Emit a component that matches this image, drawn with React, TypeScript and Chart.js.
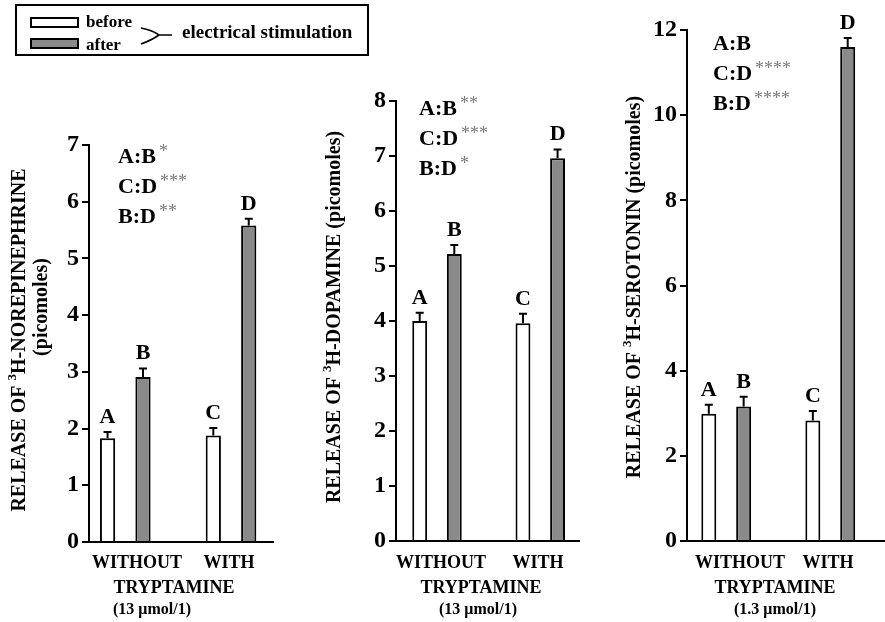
import React, { useEffect, useRef } from 'react';
import { Chart, registerables } from 'chart.js';

Chart.register(...registerables);

const FONT = '"Liberation Serif", "Times New Roman", serif';
const GRAY = '#8a8a8a';
const STAR_GRAY = '#7a7a7a';

// Tryptamine groups on the x axis
const groups = ['WITHOUT', 'WITH'];
const beforeLetters = ['A', 'C'];
const afterLetters = ['B', 'D'];
const comparisons = ['A:B', 'C:D', 'B:D'];

// 3H-norepinephrine release (picomoles)
const neBefore = [1.83, 1.88];
const neAfter = [2.91, 5.58];
const neBeforeErr = [0.11, 0.13];
const neAfterErr = [0.15, 0.12];
const neStars = ['*', '***', '**'];
const neTicks = [0, 1, 2, 3, 4, 5, 6, 7];

// 3H-dopamine release (picomoles)
const daBefore = [4.0, 3.96];
const daAfter = [5.22, 6.96];
const daBeforeErr = [0.15, 0.17];
const daAfterErr = [0.16, 0.16];
const daStars = ['**', '***', '*'];
const daTicks = [0, 1, 2, 3, 4, 5, 6, 7, 8];

// 3H-serotonin release (picomoles)
const htBefore = [2.99, 2.83];
const htAfter = [3.16, 11.6];
const htBeforeErr = [0.21, 0.22];
const htAfterErr = [0.23, 0.21];
const htStars = ['', '****', '****'];
const htTicks = [0, 2, 4, 6, 8, 10, 12];

type Seg = { text: string; size: number; raise: number };

type PanelCfg = {
  before: number[];
  after: number[];
  beforeErr: number[];
  afterErr: number[];
  stars: string[];
  ticks: number[];
  titleLines: { segs: Seg[]; x: number; y: number }[];
  dose: string;
  // layout in page pixels
  axisX: number;
  top: number;
  bottom: number;
  right: number;
  xMin: number;
  xMax: number;
  statsX: number;
  statsY: number;
  withoutX: number;
  withX: number;
  tryptX: number;
  doseX: number;
  legend?: boolean;
};

const W = 885;
const H = 622;
const Y_AXIS_W = 60;

function drawRotated(ctx: CanvasRenderingContext2D, cx: number, cy: number, segs: Seg[]) {
  ctx.save();
  ctx.translate(cx, cy);
  ctx.rotate(-Math.PI / 2);
  ctx.textBaseline = 'middle';
  ctx.textAlign = 'left';
  ctx.fillStyle = '#000';
  let total = 0;
  const widths = segs.map((s) => {
    ctx.font = `bold ${s.size}px ${FONT}`;
    const w = ctx.measureText(s.text).width;
    total += w;
    return w;
  });
  let x = -total / 2;
  segs.forEach((s, i) => {
    ctx.font = `bold ${s.size}px ${FONT}`;
    ctx.fillText(s.text, x, -s.raise);
    x += widths[i];
  });
  ctx.restore();
}

function drawLegend(ctx: CanvasRenderingContext2D) {
  ctx.save();
  ctx.strokeStyle = '#000';
  ctx.lineWidth = 2;
  ctx.strokeRect(16, 5, 352, 50);
  ctx.fillStyle = '#fff';
  ctx.fillRect(31, 18, 47, 9);
  ctx.strokeRect(31, 18, 47, 9);
  ctx.fillStyle = GRAY;
  ctx.fillRect(31, 39, 47, 9);
  ctx.strokeRect(31, 39, 47, 9);
  ctx.fillStyle = '#000';
  ctx.font = `bold 17px ${FONT}`;
  ctx.textAlign = 'left';
  ctx.textBaseline = 'alphabetic';
  ctx.fillText('before', 86, 27);
  ctx.fillText('after', 86, 50);
  ctx.lineWidth = 1.6;
  ctx.beginPath();
  ctx.moveTo(141, 28);
  ctx.quadraticCurveTo(152, 30, 159, 35);
  ctx.quadraticCurveTo(152, 40, 141, 44);
  ctx.moveTo(159, 35);
  ctx.lineTo(172, 35);
  ctx.stroke();
  ctx.font = `bold 19px ${FONT}`;
  ctx.fillText('electrical stimulation', 182, 38);
  ctx.restore();
}

function makePlugin(p: PanelCfg) {
  return {
    id: 'panelDecor',
    afterDatasetsDraw(chart: any) {
      const ctx: CanvasRenderingContext2D = chart.ctx;
      const yScale = chart.scales.y;
      const errs = [p.beforeErr, p.afterErr];
      const vals = [p.before, p.after];
      const letters = [beforeLetters, afterLetters];
      ctx.save();
      for (let d = 0; d < 2; d++) {
        const meta = chart.getDatasetMeta(d);
        meta.data.forEach((bar: any, i: number) => {
          const topY = yScale.getPixelForValue(vals[d][i]);
          const capY = yScale.getPixelForValue(vals[d][i] + errs[d][i]);
          ctx.strokeStyle = '#000';
          ctx.lineWidth = 2;
          ctx.beginPath();
          ctx.moveTo(bar.x, topY);
          ctx.lineTo(bar.x, capY);
          ctx.moveTo(bar.x - 4, capY);
          ctx.lineTo(bar.x + 4, capY);
          ctx.stroke();
          ctx.fillStyle = '#000';
          ctx.font = `bold 22px ${FONT}`;
          ctx.textAlign = 'center';
          ctx.textBaseline = 'alphabetic';
          ctx.fillText(letters[d][i], bar.x, capY - 9);
        });
      }
      ctx.restore();
    },
    afterDraw(chart: any) {
      const ctx: CanvasRenderingContext2D = chart.ctx;
      ctx.save();
      // significance notes
      comparisons.forEach((c, i) => {
        const y = p.statsY + i * 30;
        ctx.fillStyle = '#000';
        ctx.font = `bold 22px ${FONT}`;
        ctx.textAlign = 'left';
        ctx.textBaseline = 'alphabetic';
        ctx.fillText(c, p.statsX, y);
        const w = ctx.measureText(c).width;
        if (p.stars[i]) {
          ctx.fillStyle = STAR_GRAY;
          ctx.font = `18px ${FONT}`;
          ctx.fillText(p.stars[i], p.statsX + w + 3, y - 6);
        }
      });
      // y axis title
      p.titleLines.forEach((t) => drawRotated(ctx, t.x, t.y, t.segs));
      // x axis captions
      ctx.fillStyle = '#000';
      ctx.textAlign = 'center';
      ctx.textBaseline = 'alphabetic';
      ctx.font = `bold 18px ${FONT}`;
      ctx.fillText(groups[0], p.withoutX, 568);
      ctx.fillText(groups[1], p.withX, 568);
      ctx.fillText('TRYPTAMINE', p.tryptX, 593);
      ctx.font = `bold 16px ${FONT}`;
      ctx.fillText(p.dose, p.doseX, 614);
      if (p.legend) drawLegend(ctx);
      ctx.restore();
    },
  };
}

function buildConfig(p: PanelCfg): any {
  const yMax = p.ticks[p.ticks.length - 1];
  const step = p.ticks[1] - p.ticks[0];
  return {
    type: 'bar',
    data: {
      datasets: [
        {
          label: 'before',
          data: p.before.map((v, i) => ({ x: i, y: v })),
          backgroundColor: '#fff',
          borderColor: '#000',
          borderWidth: 2,
        },
        {
          label: 'after',
          data: p.after.map((v, i) => ({ x: i, y: v })),
          backgroundColor: GRAY,
          borderColor: '#000',
          borderWidth: 2,
        },
      ],
    },
    options: {
      responsive: false,
      animation: false,
      devicePixelRatio: 1,
      events: [],
      layout: {
        padding: {
          left: p.axisX - Y_AXIS_W,
          top: p.top,
          right: W - p.right,
          bottom: H - p.bottom,
        },
      },
      datasets: { bar: { categoryPercentage: 0.67, barPercentage: 0.43 } },
      plugins: { legend: { display: false }, tooltip: { enabled: false } },
      scales: {
        x: {
          type: 'linear',
          offset: false,
          min: p.xMin,
          max: p.xMax,
          afterBuildTicks: (s: any) => {
            s.ticks = groups.map((_, i) => ({ value: i }));
          },
          afterFit: (s: any) => {
            s.height = 0;
          },
          grid: { display: false, offset: false },
          ticks: { display: false },
          border: { display: true, color: '#000', width: 2 },
        },
        y: {
          min: 0,
          max: yMax,
          afterBuildTicks: (s: any) => {
            s.ticks = p.ticks.map((v) => ({ value: v }));
          },
          afterFit: (s: any) => {
            s.width = Y_AXIS_W;
          },
          ticks: {
            stepSize: step,
            color: '#000',
            padding: 3,
            font: { family: FONT, size: 24, weight: 'bold' },
          },
          grid: {
            drawOnChartArea: false,
            drawTicks: true,
            tickLength: 7,
            color: '#000',
            lineWidth: 2,
          },
          border: { display: true, color: '#000', width: 2 },
        },
      },
    },
    plugins: [makePlugin(p)],
  };
}

const panels: PanelCfg[] = [
  {
    before: neBefore,
    after: neAfter,
    beforeErr: neBeforeErr,
    afterErr: neAfterErr,
    stars: neStars,
    ticks: neTicks,
    titleLines: [
      {
        segs: [
          { text: 'RELEASE OF ', size: 20, raise: 0 },
          { text: '3', size: 13, raise: 7 },
          { text: 'H-NOREPINEPHRINE', size: 20, raise: 0 },
        ],
        x: 20,
        y: 340,
      },
      { segs: [{ text: '(picomoles)', size: 20, raise: 0 }], x: 42, y: 307 },
    ],
    dose: '(13 μmol/1)',
    axisX: 89,
    top: 145,
    bottom: 542,
    right: 273,
    xMin: -0.343,
    xMax: 1.397,
    statsX: 118,
    statsY: 163,
    withoutX: 137,
    withX: 229,
    tryptX: 174,
    doseX: 152,
    legend: true,
  },
  {
    before: daBefore,
    after: daAfter,
    beforeErr: daBeforeErr,
    afterErr: daAfterErr,
    stars: daStars,
    ticks: daTicks,
    titleLines: [
      {
        segs: [
          { text: 'RELEASE OF ', size: 20, raise: 0 },
          { text: '3', size: 13, raise: 7 },
          { text: 'H-DOPAMINE (picomoles)', size: 20, raise: 0 },
        ],
        x: 335,
        y: 317,
      },
    ],
    dose: '(13 μmol/1)',
    axisX: 396,
    top: 101,
    bottom: 541,
    right: 579,
    xMin: -0.397,
    xMax: 1.375,
    statsX: 419,
    statsY: 115,
    withoutX: 441,
    withX: 538,
    tryptX: 481,
    doseX: 478,
  },
  {
    before: htBefore,
    after: htAfter,
    beforeErr: htBeforeErr,
    afterErr: htAfterErr,
    stars: htStars,
    ticks: htTicks,
    titleLines: [
      {
        segs: [
          { text: 'RELEASE OF ', size: 20, raise: 0 },
          { text: '3', size: 13, raise: 7 },
          { text: 'H-SEROTONIN (picomoles)', size: 20, raise: 0 },
        ],
        x: 635,
        y: 287,
      },
    ],
    dose: '(1.3 μmol/1)',
    axisX: 687,
    top: 30,
    bottom: 541,
    right: 885,
    xMin: -0.377,
    xMax: 1.526,
    statsX: 713,
    statsY: 50,
    withoutX: 740,
    withX: 828,
    tryptX: 775,
    doseX: 775,
  },
];

function Panel({ cfg }: { cfg: PanelCfg }) {
  const ref = useRef<HTMLCanvasElement>(null);
  useEffect(() => {
    const chart = new Chart(ref.current as HTMLCanvasElement, buildConfig(cfg));
    return () => chart.destroy();
  }, [cfg]);
  return (
    <canvas
      ref={ref}
      width={W}
      height={H}
      style={{ position: 'absolute', left: 0, top: 0, width: W, height: H }}
    />
  );
}

export default function App() {
  return (
    <div
      style={{
        position: 'fixed',
        left: 0,
        top: 0,
        width: W,
        height: H,
        background: '#fff',
        overflow: 'hidden',
      }}
    >
      {panels.map((p, i) => (
        <Panel key={i} cfg={p} />
      ))}
    </div>
  );
}
